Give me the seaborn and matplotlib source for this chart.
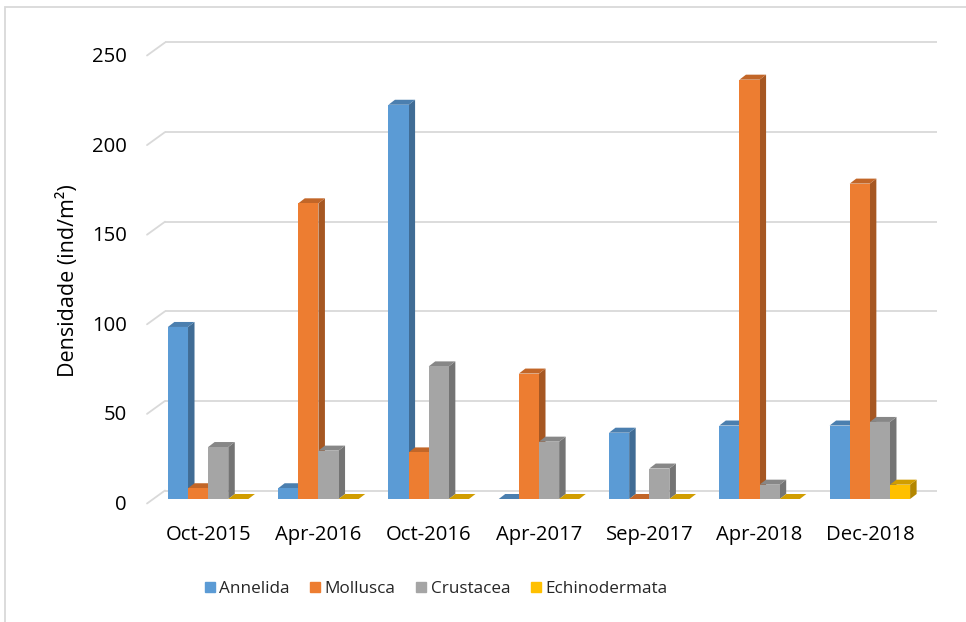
import matplotlib
matplotlib.use("Agg")
import numpy as np
import pandas as pd
import matplotlib.pyplot as plt
import matplotlib.colors as mcolors
from matplotlib.patches import Polygon, Rectangle
from matplotlib.lines import Line2D
from matplotlib.transforms import ScaledTranslation
import seaborn as sns

# Sampling campaigns and mean density per taxon (ind/m²)
periods = ["Oct-2015", "Apr-2016", "Oct-2016", "Apr-2017", "Sep-2017", "Apr-2018", "Dec-2018"]
annelida = [96, 6, 220, 0, 37, 41, 41]
mollusca = [6, 165, 26, 70, 0, 234, 176]
crustacea = [29, 27, 74, 32, 17, 8, 43]
echinodermata = [0, 0, 0, 0, 0, 0, 8]
taxa = ["Annelida", "Mollusca", "Crustacea", "Echinodermata"]
taxon_colors = ["#5b9bd5", "#ed7d31", "#a5a5a5", "#ffc000"]
y_ticks = [0, 50, 100, 150, 200, 250]

df = pd.DataFrame({
    "period": periods,
    "Annelida": annelida,
    "Mollusca": mollusca,
    "Crustacea": crustacea,
    "Echinodermata": echinodermata,
}).melt(id_vars="period", var_name="taxon", value_name="density")

sns.set_theme(style="white")
plt.rcParams["font.family"] = ["Open Sans", "DejaVu Sans"]
FS = 14.6

W, H = 966, 622
fig = plt.figure(figsize=(W / 100, H / 100), dpi=100)
fig.patch.set_facecolor("white")

# plot plane in pixels (the plane the bar fronts sit in)
left_px, right_px, bottom_px, top_px = 153, 925, 499, 51
ax = fig.add_axes([left_px / W, 1 - bottom_px / H,
                   (right_px - left_px) / W, (bottom_px - top_px) / H])
ax.set_facecolor("none")

sns.barplot(data=df, x="period", y="density", hue="taxon", order=periods,
            hue_order=taxa, palette=taxon_colors, saturation=1, width=0.73,
            errorbar=None, legend=False, linewidth=0, ax=ax, zorder=3)
ax.set_xlim(-0.5, len(periods) - 0.5)
ax.set_ylim(0, 250)

# pixel -> data conversions for the pseudo-3D depth
sx = (right_px - left_px) / len(periods)
sy = (bottom_px - top_px) / 250.0

# gridlines on the back wall plus the short perspective strokes at the left
back_dx, back_dy = 12 / sx, 8.5 / sy
front_dx, front_dy = -6 / sx, -4.5 / sy
grid_col = "#d9d9d9"
for v in y_ticks:
    ax.plot([-0.5 + back_dx, len(periods) - 0.5 + back_dx], [v + back_dy, v + back_dy],
            color=grid_col, lw=1.3, zorder=0.5, clip_on=False, solid_capstyle="butt")
    ax.plot([-0.5 + front_dx, -0.5 + back_dx], [v + front_dy, v + back_dy],
            color=grid_col, lw=1.3, zorder=0.5, clip_on=False)

# side and top faces for every bar
ddx, ddy = 6.5 / sx, 5 / sy
def shade(c, f):
    r, g, b = mcolors.to_rgb(c)
    return (r * f, g * f, b * f)

for p in list(ax.patches):
    x0, w, h = p.get_x(), p.get_width(), p.get_height()
    fc = p.get_facecolor()
    side = Polygon([(x0 + w, 0), (x0 + w + ddx, ddy), (x0 + w + ddx, h + ddy), (x0 + w, h)],
                   closed=True, facecolor=shade(fc, 0.70), edgecolor="none", zorder=2,
                   clip_on=False)
    top = Polygon([(x0, h), (x0 + ddx, h + ddy), (x0 + w + ddx, h + ddy), (x0 + w, h)],
                  closed=True, facecolor=shade(fc, 0.82), edgecolor="none", zorder=2.5,
                  clip_on=False)
    ax.add_patch(side)
    ax.add_patch(top)

for s in ax.spines.values():
    s.set_visible(False)
ax.set_yticks(y_ticks)
ax.set_yticklabels([str(v) for v in y_ticks])
ax.tick_params(axis="y", length=0, pad=19, labelsize=FS, labelcolor="black")
ax.tick_params(axis="x", length=0, pad=18.5, labelsize=FS, labelcolor="black")
shift = ScaledTranslation(0, -3.5 / 100, fig.dpi_scale_trans)
for lab in ax.get_yticklabels():
    lab.set_transform(lab.get_transform() + shift)
ax.set_xlabel("")
ax.set_ylabel("")
ax.grid(False)

fig.text(68 / W, 1 - 281 / H, "Densidade (ind/m²)", rotation=90, ha="center",
         va="center", fontsize=15.5, color="black")

handles = [Line2D([], [], marker="s", linestyle="none", markersize=7.5,
                  markerfacecolor=c, markeredgecolor=c) for c in taxon_colors]
fig.legend(handles, taxa, loc="center", bbox_to_anchor=(436 / W, 1 - 589 / H),
           ncol=4, frameon=False, handletextpad=0.25, fontsize=12.3,
           columnspacing=1.2, handlelength=0.6)

# light outer frame of the chart area
fig.patches.append(Rectangle((4.5 / W, -0.02), 1.05, 1 - 6.5 / H + 0.02,
                             transform=fig.transFigure, fill=False,
                             edgecolor="#d9d9d9", lw=1.3, zorder=0))

fig.savefig("out.png", dpi=100, facecolor="white")
